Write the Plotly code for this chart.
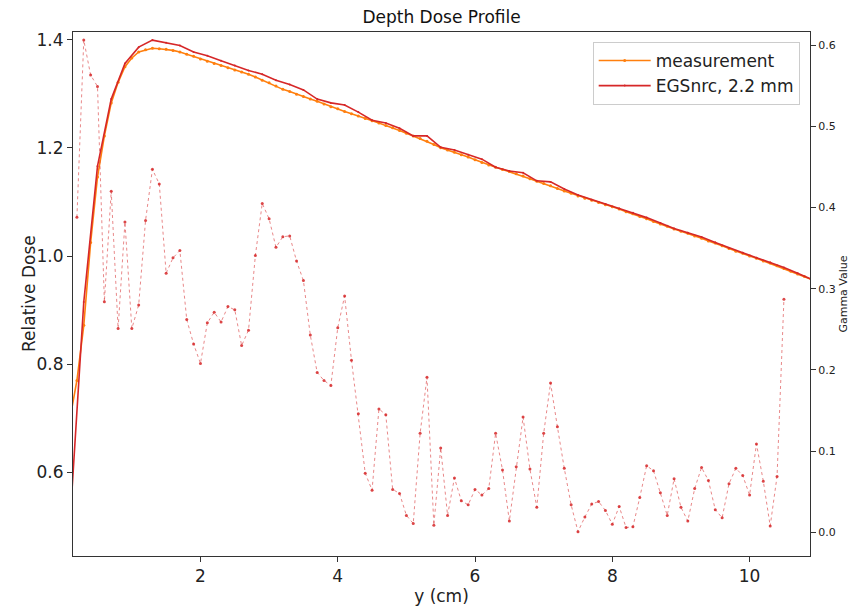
import plotly.graph_objects as go

# ---------------- data ----------------
depth_meas = [0.1, 0.2, 0.3, 0.4, 0.5, 0.6, 0.7, 0.8, 0.9, 1.0,
              1.1, 1.2, 1.3, 1.4, 1.5, 1.6, 1.7, 1.8, 1.9, 2.0,
              2.1, 2.2, 2.3, 2.4, 2.5, 2.6, 2.7, 2.8, 2.9, 3.0,
              3.1, 3.2, 3.3, 3.4, 3.5, 3.6, 3.7, 3.8, 3.9, 4.0,
              4.1, 4.2, 4.3, 4.4, 4.5, 4.6, 4.7, 4.8, 4.9, 5.0,
              5.1, 5.2, 5.3, 5.4, 5.5, 5.6, 5.7, 5.8, 5.9, 6.0,
              6.1, 6.2, 6.3, 6.4, 6.5, 6.6, 6.7, 6.8, 6.9, 7.0,
              7.1, 7.2, 7.3, 7.4, 7.5, 7.6, 7.7, 7.8, 7.9, 8.0,
              8.1, 8.2, 8.3, 8.4, 8.5, 8.6, 8.7, 8.8, 8.9, 9.0,
              9.1, 9.2, 9.3, 9.4, 9.5, 9.6, 9.7, 9.8, 9.9, 10.0,
              10.1, 10.2, 10.3, 10.4, 10.5, 10.6, 10.7, 10.8, 10.9]
dose_meas = [0.700, 0.770, 0.872, 1.025, 1.146, 1.222, 1.283, 1.321, 1.350, 1.366,
             1.377, 1.381, 1.384, 1.383, 1.382, 1.380, 1.377, 1.373, 1.369, 1.364,
             1.360, 1.356, 1.352, 1.348, 1.344, 1.340, 1.336, 1.331, 1.325, 1.320,
             1.314, 1.308, 1.304, 1.299, 1.295, 1.290, 1.286, 1.281, 1.276, 1.272,
             1.267, 1.263, 1.259, 1.254, 1.250, 1.246, 1.241, 1.237, 1.232, 1.227,
             1.222, 1.217, 1.212, 1.206, 1.200, 1.196, 1.192, 1.187, 1.183, 1.178,
             1.173, 1.168, 1.164, 1.160, 1.156, 1.152, 1.148, 1.143, 1.138, 1.134,
             1.130, 1.125, 1.120, 1.116, 1.111, 1.107, 1.103, 1.099, 1.095, 1.091,
             1.087, 1.082, 1.078, 1.073, 1.069, 1.064, 1.059, 1.055, 1.050, 1.046,
             1.042, 1.037, 1.033, 1.028, 1.024, 1.019, 1.014, 1.009, 1.005, 1.000,
             0.996, 0.991, 0.987, 0.982, 0.977, 0.972, 0.967, 0.962, 0.957]

depth_sim = [0.1, 0.3, 0.5, 0.7, 0.9, 1.1, 1.3, 1.5, 1.7, 1.9,
             2.1, 2.3, 2.5, 2.7, 2.9, 3.1, 3.3, 3.5, 3.7, 3.9,
             4.1, 4.3, 4.5, 4.7, 4.9, 5.1, 5.3, 5.5, 5.7, 5.9,
             6.1, 6.3, 6.5, 6.7, 6.9, 7.1, 7.3, 7.5, 7.7, 7.9,
             8.1, 8.3, 8.5, 8.7, 8.9, 9.1, 9.3, 9.5, 9.7, 9.9,
             10.1, 10.3, 10.5, 10.7, 10.9]
dose_sim = [0.510, 0.915, 1.166, 1.290, 1.356, 1.386, 1.399, 1.394, 1.389, 1.377,
            1.370, 1.361, 1.352, 1.343, 1.336, 1.325, 1.317, 1.307, 1.290, 1.283,
            1.279, 1.266, 1.251, 1.246, 1.236, 1.222, 1.222, 1.201, 1.196, 1.187,
            1.179, 1.164, 1.157, 1.154, 1.139, 1.137, 1.124, 1.113, 1.104, 1.096,
            1.088, 1.080, 1.071, 1.061, 1.051, 1.043, 1.035, 1.025, 1.015, 1.006,
            0.997, 0.988, 0.979, 0.968, 0.957]

depth_gamma = [0.2, 0.3, 0.4, 0.5, 0.6, 0.7, 0.8, 0.9, 1.0,
               1.1, 1.2, 1.3, 1.4, 1.5, 1.6, 1.7, 1.8, 1.9, 2.0,
               2.1, 2.2, 2.3, 2.4, 2.5, 2.6, 2.7, 2.8, 2.9, 3.0,
               3.1, 3.2, 3.3, 3.4, 3.5, 3.6, 3.7, 3.8, 3.9, 4.0,
               4.1, 4.2, 4.3, 4.4, 4.5, 4.6, 4.7, 4.8, 4.9, 5.0,
               5.1, 5.2, 5.3, 5.4, 5.5, 5.6, 5.7, 5.8, 5.9, 6.0,
               6.1, 6.2, 6.3, 6.4, 6.5, 6.6, 6.7, 6.8, 6.9, 7.0,
               7.1, 7.2, 7.3, 7.4, 7.5, 7.6, 7.7, 7.8, 7.9, 8.0,
               8.1, 8.2, 8.3, 8.4, 8.5, 8.6, 8.7, 8.8, 8.9, 9.0,
               9.1, 9.2, 9.3, 9.4, 9.5, 9.6, 9.7, 9.8, 9.9, 10.0,
               10.1, 10.2, 10.3, 10.4, 10.5]
gamma_vals = [0.388, 0.606, 0.563, 0.549, 0.284, 0.420, 0.251, 0.382, 0.251,
              0.280, 0.384, 0.447, 0.429, 0.319, 0.338, 0.347, 0.262, 0.232, 0.208,
              0.258, 0.271, 0.259, 0.278, 0.274, 0.230, 0.249, 0.341, 0.405, 0.386,
              0.351, 0.364, 0.365, 0.334, 0.310, 0.243, 0.197, 0.187, 0.181, 0.252,
              0.291, 0.212, 0.146, 0.073, 0.052, 0.152, 0.145, 0.053, 0.048, 0.021,
              0.011, 0.122, 0.191, 0.009, 0.104, 0.021, 0.067, 0.039, 0.034, 0.053,
              0.046, 0.054, 0.122, 0.077, 0.014, 0.081, 0.142, 0.078, 0.031, 0.122,
              0.184, 0.130, 0.079, 0.034, 0.001, 0.019, 0.035, 0.038, 0.027, 0.010,
              0.032, 0.006, 0.007, 0.043, 0.082, 0.076, 0.049, 0.021, 0.066, 0.031,
              0.014, 0.054, 0.080, 0.064, 0.028, 0.018, 0.060, 0.079, 0.070, 0.046,
              0.109, 0.063, 0.008, 0.069, 0.287]

x_ticks = [2, 4, 6, 8, 10]
dose_ticks = [0.6, 0.8, 1.0, 1.2, 1.4]
gamma_ticks = [0.0, 0.1, 0.2, 0.3, 0.4, 0.5, 0.6]

# ---------------- figure ----------------
FONT = "DejaVu Sans"
ORANGE = "#ff7f0e"
RED = "#d62728"

fig = go.Figure()
fig.add_trace(go.Scatter(
    x=depth_meas, y=dose_meas, name="measurement", mode="lines+markers",
    line=dict(color=ORANGE, width=1.6), marker=dict(color=ORANGE, size=3),
    yaxis="y"))
fig.add_trace(go.Scatter(
    x=depth_sim, y=dose_sim, name="EGSnrc, 2.2 mm", mode="lines+markers",
    line=dict(color=RED, width=1.6), marker=dict(color=RED, size=2),
    yaxis="y"))
fig.add_trace(go.Scatter(
    x=depth_gamma, y=gamma_vals, name="gamma", mode="lines+markers",
    line=dict(color="rgba(214,39,40,0.55)", width=1, dash="dot"),
    marker=dict(color="rgba(214,39,40,0.85)", size=3),
    yaxis="y2", showlegend=False))

axis_common = dict(showline=True, linecolor="#333333", linewidth=1,
                   ticks="outside", ticklen=5, tickwidth=1, tickcolor="#333333",
                   showgrid=False, zeroline=False, automargin=False)

fig.update_layout(
    width=850, height=611, autosize=False,
    margin=dict(l=73, r=40, t=32, b=55),
    paper_bgcolor="white", plot_bgcolor="white",
    font=dict(family=FONT, color="#222222"),
    title=dict(text="Depth Dose Profile", x=0.5195, xanchor="center",
               y=0.972, yanchor="middle", font=dict(size=17, family=FONT, color="#111111")),
    xaxis=dict(range=[0.143, 10.88], tickvals=x_ticks, mirror=True,
               title=dict(text="y (cm)", font=dict(size=17), standoff=4),
               tickfont=dict(size=17), **axis_common),
    yaxis=dict(range=[0.4457, 1.414], tickvals=dose_ticks, tickformat=".1f",
               tickfont=dict(size=17), **axis_common),
    yaxis2=dict(range=[-0.029, 0.616], tickvals=gamma_ticks, tickformat=".1f",
                overlaying="y", side="right",
                title=dict(text="Gamma Value", font=dict(size=11), standoff=4),
                tickfont=dict(size=11), **axis_common),
    legend=dict(x=0.986, y=0.981, xanchor="right", yanchor="top",
                bgcolor="rgba(255,255,255,0.85)", bordercolor="#cccccc", borderwidth=1,
                font=dict(size=17, family=FONT, color="#222222"),
                itemwidth=52, tracegroupgap=2),
    showlegend=True,
    annotations=[dict(text="Relative Dose", xref="paper", yref="paper",
                      x=-0.0597, y=0.5, xanchor="center", yanchor="middle",
                      textangle=-90, showarrow=False,
                      font=dict(size=17, family=FONT, color="#222222"))],
)

fig.write_html("out.html")
